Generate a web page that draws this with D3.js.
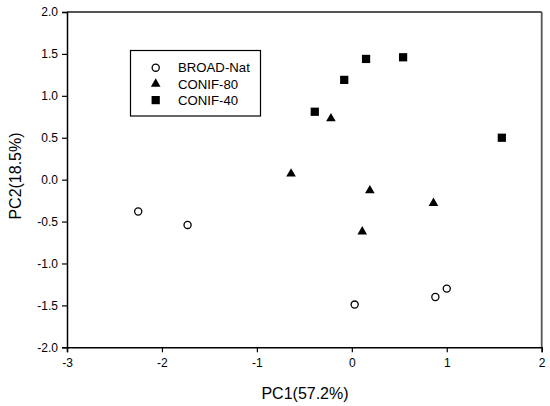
<!DOCTYPE html>
<html><head><meta charset="utf-8">
<script src="https://cdn.jsdelivr.net/npm/d3@7"></script>
<style>body{margin:0;background:#fff}svg{display:block}text{font-family:"Liberation Sans",Arial,sans-serif}</style>
</head><body>
<script>
const seriesNames = ["BROAD-Nat", "CONIF-80", "CONIF-40"];
const broadX = [-2.25, -1.73, 0.03, 0.88, 1.00];
const broadY = [-0.38, -0.54, -1.49, -1.40, -1.30];
const conif80X = [-0.64, -0.22, 0.19, 0.86, 0.11];
const conif80Y = [0.07, 0.73, -0.13, -0.28, -0.62];
const conif40X = [-0.39, -0.08, 0.15, 0.54, 1.58];
const conif40Y = [0.81, 1.19, 1.44, 1.46, 0.50];
const xTicks = [-3, -2, -1, 0, 1, 2];
const yTicks = [-2.0, -1.5, -1.0, -0.5, 0.0, 0.5, 1.0, 1.5, 2.0];

const W = 550, H = 406;
const m = {l: 67, t: 12, r: 550 - 541.7, b: 406 - 347.3};
const svg = d3.select("body").append("svg").attr("width", W).attr("height", H);
const x = d3.scaleLinear().domain([-3, 2]).range([m.l, W - m.r]);
const y = d3.scaleLinear().domain([-2, 2]).range([H - m.b, m.t]);
const hy = f => d => f(d).replace("\u2212", "-");

// frame top/right
svg.append("line").attr("x1", x(-3)).attr("x2", x(2)).attr("y1", y(2)).attr("y2", y(2)).attr("stroke", "#555").attr("stroke-width", 1.8);
svg.append("line").attr("x1", x(2)).attr("x2", x(2)).attr("y1", y(2)).attr("y2", y(-2)).attr("stroke", "#555").attr("stroke-width", 1.8);

const xAxis = svg.append("g").attr("transform", `translate(0,${y(-2)})`)
  .call(d3.axisBottom(x).tickValues(xTicks).tickFormat(hy(d3.format("d"))).tickSize(5).tickPadding(6));
const yAxis = svg.append("g").attr("transform", `translate(${x(-3)},0)`)
  .call(d3.axisLeft(y).tickValues(yTicks).tickFormat(hy(d3.format(".1f"))).tickSize(5).tickPadding(4));
[xAxis, yAxis].forEach(g => {
  g.select(".domain").attr("stroke", "#000").attr("stroke-width", 1.5);
  g.selectAll(".tick line").attr("stroke", "#000").attr("stroke-width", 1.2);
  g.selectAll("text").attr("font-size", 12).attr("fill", "#000").attr("font-family", '"Liberation Sans",Arial,sans-serif');
});

svg.append("text").attr("x", 305).attr("y", 399).attr("text-anchor", "middle").attr("font-size", 16).text("PC1(57.2%)");
svg.append("text").attr("transform", "translate(21,176) rotate(-90)").attr("text-anchor", "middle").attr("font-size", 16).text("PC2(18.5%)");

const sym = [
  {type: d3.symbolCircle, size: 40, fill: "#fff", stroke: "#000"},
  {type: d3.symbolTriangle, size: 40, fill: "#000", stroke: "none"},
  {type: d3.symbolSquare, size: 68, fill: "#000", stroke: "none"}
];
const data = [
  broadX.map((v, i) => [v, broadY[i]]),
  conif80X.map((v, i) => [v, conif80Y[i]]),
  conif40X.map((v, i) => [v, conif40Y[i]])
];
data.forEach((pts, k) => {
  svg.append("g").selectAll("path").data(pts).join("path")
    .attr("transform", d => `translate(${x(d[0])},${y(d[1])})`)
    .attr("d", d3.symbol().type(sym[k].type).size(sym[k].size))
    .attr("fill", sym[k].fill).attr("stroke", sym[k].stroke).attr("stroke-width", 1.3);
});

// legend
const lg = svg.append("g");
lg.append("rect").attr("x", 130.5).attr("y", 50.5).attr("width", 130).attr("height", 65.5).attr("fill", "#fff").attr("stroke", "#000").attr("stroke-width", 1.2);
seriesNames.forEach((n, k) => {
  const cy = 67.7 + k * 16.2;
  lg.append("path").attr("transform", `translate(155.7,${cy})`)
    .attr("d", d3.symbol().type(sym[k].type).size(sym[k].size))
    .attr("fill", sym[k].fill).attr("stroke", sym[k].stroke).attr("stroke-width", 1.3);
  lg.append("text").attr("x", 178).attr("y", cy + 4.6).attr("font-size", 13.2).text(n);
});
</script>
</body></html>
